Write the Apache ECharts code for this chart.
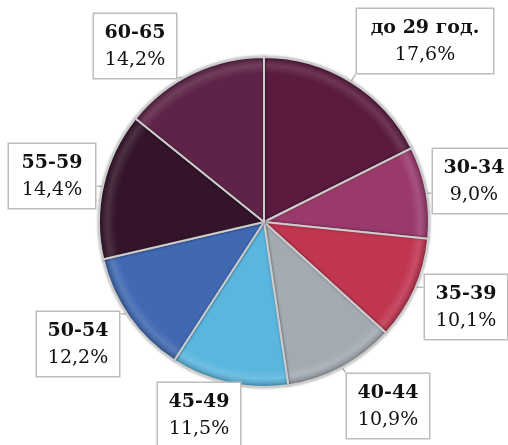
<!DOCTYPE html>
<html><head><meta charset="utf-8">
<script src="https://cdn.jsdelivr.net/npm/echarts@6/dist/echarts.min.js"></script>
<style>html,body{margin:0;padding:0;background:#fff}#c{width:508px;height:445px}</style>
</head><body><div id="c"></div>
<script>
const categories = ['до 29 год.', '30-34', '35-39', '40-44', '45-49', '50-54', '55-59', '60-65'];
const shares = [17.6, 9.0, 10.1, 10.9, 11.5, 12.2, 14.4, 14.2];
const colors = ['#5a1b3e', '#9a3a6c', '#c03550', '#a3aab2', '#5bb6df', '#4069b2', '#34142a', '#5e2447'];
const labelPos = [[425, 41], [474, 181], [466, 307], [388, 406], [199, 415], [78, 344], [52, 176], [135, 46]];
const labelWidths = [118, 64, 64, 64, 64, 64, 68, 64];
const CX = 264, CY = 222, R = 165;

function mix(hex, target, t) {
  const a = echarts.color.parse(hex), b = echarts.color.parse(target);
  return 'rgb(' + [0, 1, 2].map(k => Math.round(a[k] * (1 - t) + b[k] * t)).join(',') + ')';
}

const total = shares.reduce((a, b) => a + b, 0);
const chart = echarts.init(document.getElementById('c'));
chart.setOption({
  animation: false,
  series: [{
    type: 'pie',
    center: [CX, CY],
    radius: [0, R],
    startAngle: 90,
    clockwise: true,
    data: categories.map((n, i) => ({
      name: n, value: shares[i],
      label: { width: labelWidths[i] },
      itemStyle: {
        color: {
          type: 'radial', x: CX, y: CY, r: R, global: true,
          colorStops: [
            {offset: 0, color: colors[i]},
            {offset: 0.9, color: colors[i]},
            {offset: 0.95, color: mix(colors[i], '#ffffff', 0.12)},
            {offset: 1, color: mix(colors[i], '#000000', 0.2)}
          ]
        }
      }
    })),
    itemStyle: { borderColor: '#cdcdcd', borderWidth: 2, shadowColor: 'rgba(0,0,0,0.3)', shadowBlur: 3 },
    label: {
      show: true,
      position: 'outside',
      overflow: 'none',
      formatter: p => '{b|' + p.name + '}\n{v|' + p.value.toFixed(1).replace('.', ',') + '%}',
      backgroundColor: '#fff',
      borderColor: '#bdbdbd',
      borderWidth: 1.5,
      padding: [6, 9, 4, 9],
      align: 'center',
      rich: {
        b: { fontFamily: 'DejaVu Serif', fontWeight: 'bold', fontSize: 19, color: '#111', lineHeight: 27, align: 'center' },
        v: { fontFamily: 'DejaVu Serif', fontSize: 19, color: '#111', lineHeight: 27, align: 'center' }
      }
    },
    labelLine: { show: true, lineStyle: { color: '#bdbdbd', width: 1.5 } },
    labelLayout: function (params) {
      const i = params.dataIndex;
      let cum = 0;
      for (let k = 0; k < i; k++) cum += shares[k];
      const ang = (90 - (cum + shares[i] / 2) / total * 360) * Math.PI / 180;
      const px = CX + R * 0.97 * Math.cos(ang), py = CY - R * 0.97 * Math.sin(ang);
      const [lx, ly] = labelPos[i];
      const w = params.labelRect.width, h = params.labelRect.height;
      const bx = Math.max(lx - w / 2, Math.min(px, lx + w / 2));
      const by = Math.max(ly - h / 2, Math.min(py, ly + h / 2));
      return {
        x: lx, y: ly, align: 'center', verticalAlign: 'middle',
        labelLinePoints: [[px, py], [bx, by], [bx, by]]
      };
    }
  }]
});
</script></body></html>
